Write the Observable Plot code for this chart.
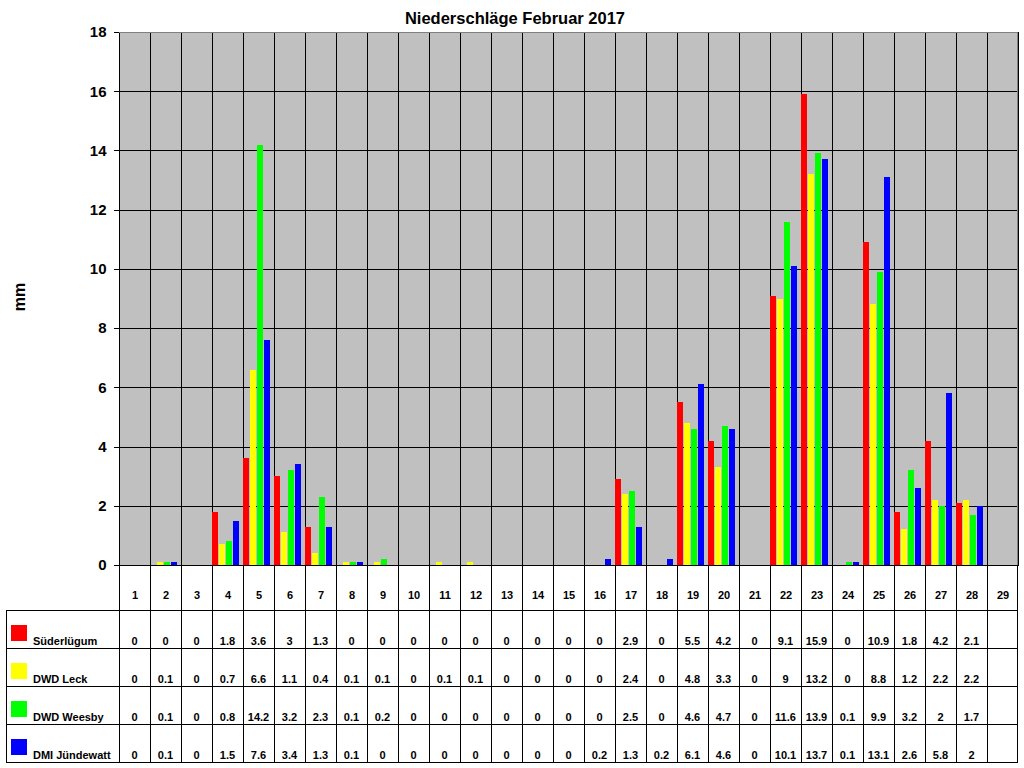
<!DOCTYPE html>
<html><head><meta charset="utf-8">
<script src="https://cdn.jsdelivr.net/npm/d3@7"></script>
<script src="https://cdn.jsdelivr.net/npm/@observablehq/plot@0.6"></script>
<style>
body{margin:0;background:#fff;font-family:"Liberation Sans",Arial,sans-serif;}
#wrap{position:relative;width:1024px;height:768px;overflow:hidden;}
#title{position:absolute;left:0;top:9px;width:1030px;text-align:center;font-weight:bold;font-size:16.5px;color:#000;}
#ylab{position:absolute;left:20px;top:297px;transform:translate(-50%,-50%) rotate(-90deg);font-weight:bold;font-size:16px;color:#000;}
#chart{position:absolute;left:0;top:0;}
svg line, svg path, svg rect{shape-rendering:crispEdges;}
</style>
</head><body>
<div id="wrap"><div id="chart"></div><div id="title">Niederschläge Februar 2017</div><div id="ylab">mm</div></div>
<script>
const days = [1,2,3,4,5,6,7,8,9,10,11,12,13,14,15,16,17,18,19,20,21,22,23,24,25,26,27,28,29];
const seriesNames = ["Süderlügum","DWD Leck","DWD Weesby","DMI Jündewatt"];
const seriesColors = ["#ff0000","#ffff00","#00ff00","#0000ff"];
const suederluegum = [0,0,0,1.8,3.6,3,1.3,0,0,0,0,0,0,0,0,0,2.9,0,5.5,4.2,0,9.1,15.9,0,10.9,1.8,4.2,2.1,null];
const leck         = [0,0.1,0,0.7,6.6,1.1,0.4,0.1,0.1,0,0.1,0.1,0,0,0,0,2.4,0,4.8,3.3,0,9,13.2,0,8.8,1.2,2.2,2.2,null];
const weesby       = [0,0.1,0,0.8,14.2,3.2,2.3,0.1,0.2,0,0,0,0,0,0,0,2.5,0,4.6,4.7,0,11.6,13.9,0.1,9.9,3.2,2,1.7,null];
const juendewatt   = [0,0.1,0,1.5,7.6,3.4,1.3,0.1,0,0,0,0,0,0,0,0.2,1.3,0.2,6.1,4.6,0,10.1,13.7,0.1,13.1,2.6,5.8,2,null];
const yTicks = [0,2,4,6,8,10,12,14,16,18];

const seriesValues = [suederluegum, leck, weesby, juendewatt];
const table = days.flatMap((d, i) => seriesNames.map((s, j) => ({day: d, series: s, value: seriesValues[j][i]})));

const W = 1024, H = 768, mT = 32, mB = 203, mL = 118, mR = 5;
const font = "Liberation Sans, Arial, sans-serif";

const plot = Plot.plot({
  width: W, height: H,
  marginTop: mT, marginBottom: mB, marginLeft: mL, marginRight: mR,
  style: {fontFamily: font, background: "transparent", color: "#000", overflow: "visible"},
  fx: {domain: days, padding: 0, axis: null, label: null},
  x: {domain: seriesNames, paddingInner: 0.2, paddingOuter: 0.1, align: 0, axis: null},
  y: {domain: [0, 18], axis: null, label: null},
  color: {domain: seriesNames, range: seriesColors},
  marks: [
    Plot.frame({fill: "#c0c0c0", stroke: null}),
    Plot.gridY(yTicks, {stroke: "#000", strokeOpacity: 1, strokeWidth: 1}),
    Plot.frame({stroke: "#000", strokeWidth: 1}),
    Plot.ruleY([18], {stroke: "#808080"}),
    Plot.barY(table, {fx: "day", x: "series", y: "value", fill: "series"}),
    Plot.axisY(yTicks, {tickSize: 5, tickPadding: 8, fontSize: 15, fontWeight: "bold", label: null}),
    Plot.axisFx({anchor: "bottom", tickSize: 0, tickPadding: 26, fontSize: 11, fontWeight: "bold", label: null})
  ]
});
document.getElementById("chart").appendChild(plot);

// data table under the chart, aligned with the fx scale
const fx = plot.scale("fx");
const bw = fx.bandwidth;
const colLeft = d => fx.apply(d);
const xRight = colLeft(days[days.length - 1]) + bw;
const plotBottom = H - mB;
const rowLines = [611, 649, 687, 725, 763];
const tableLeft = 6;
const g = d3.select(plot).append("g").attr("font-family", font).attr("font-weight", "bold")
  .attr("font-size", 11).attr("text-anchor", "start").attr("fill", "#000");

// right plot border grey
g.append("line").attr("x1", Math.round(xRight) - 0.5).attr("x2", Math.round(xRight) - 0.5)
  .attr("y1", mT).attr("y2", plotBottom).attr("stroke", "#808080");

days.forEach(d => {
  const x = Math.round(colLeft(d)) + 0.5;
  g.append("line").attr("x1", x).attr("x2", x).attr("y1", plotBottom).attr("y2", rowLines[4]).attr("stroke", "#000");
});
g.append("line").attr("x1", Math.round(xRight) - 0.5).attr("x2", Math.round(xRight) - 0.5)
  .attr("y1", plotBottom).attr("y2", rowLines[4]).attr("stroke", "#000");
g.append("line").attr("x1", tableLeft + 0.5).attr("x2", tableLeft + 0.5)
  .attr("y1", rowLines[0]).attr("y2", rowLines[4]).attr("stroke", "#000");
rowLines.forEach(y => {
  g.append("line").attr("x1", tableLeft).attr("x2", Math.round(xRight)).attr("y1", y - 0.5).attr("y2", y - 0.5).attr("stroke", "#000");
});

seriesNames.forEach((s, j) => {
  const bottom = rowLines[j + 1];
  g.append("rect").attr("x", 11).attr("y", bottom - 24).attr("width", 16).attr("height", 16).attr("fill", seriesColors[j]);
  g.append("text").attr("x", 33).attr("y", bottom - 4).attr("text-anchor", "start").text(s);
  days.forEach((d, i) => {
    const v = seriesValues[j][i];
    if (v == null) return;
    g.append("text").attr("x", colLeft(d) + bw / 2).attr("y", bottom - 4).attr("text-anchor", "middle").text(String(v));
  });
});
</script>
</body></html>
